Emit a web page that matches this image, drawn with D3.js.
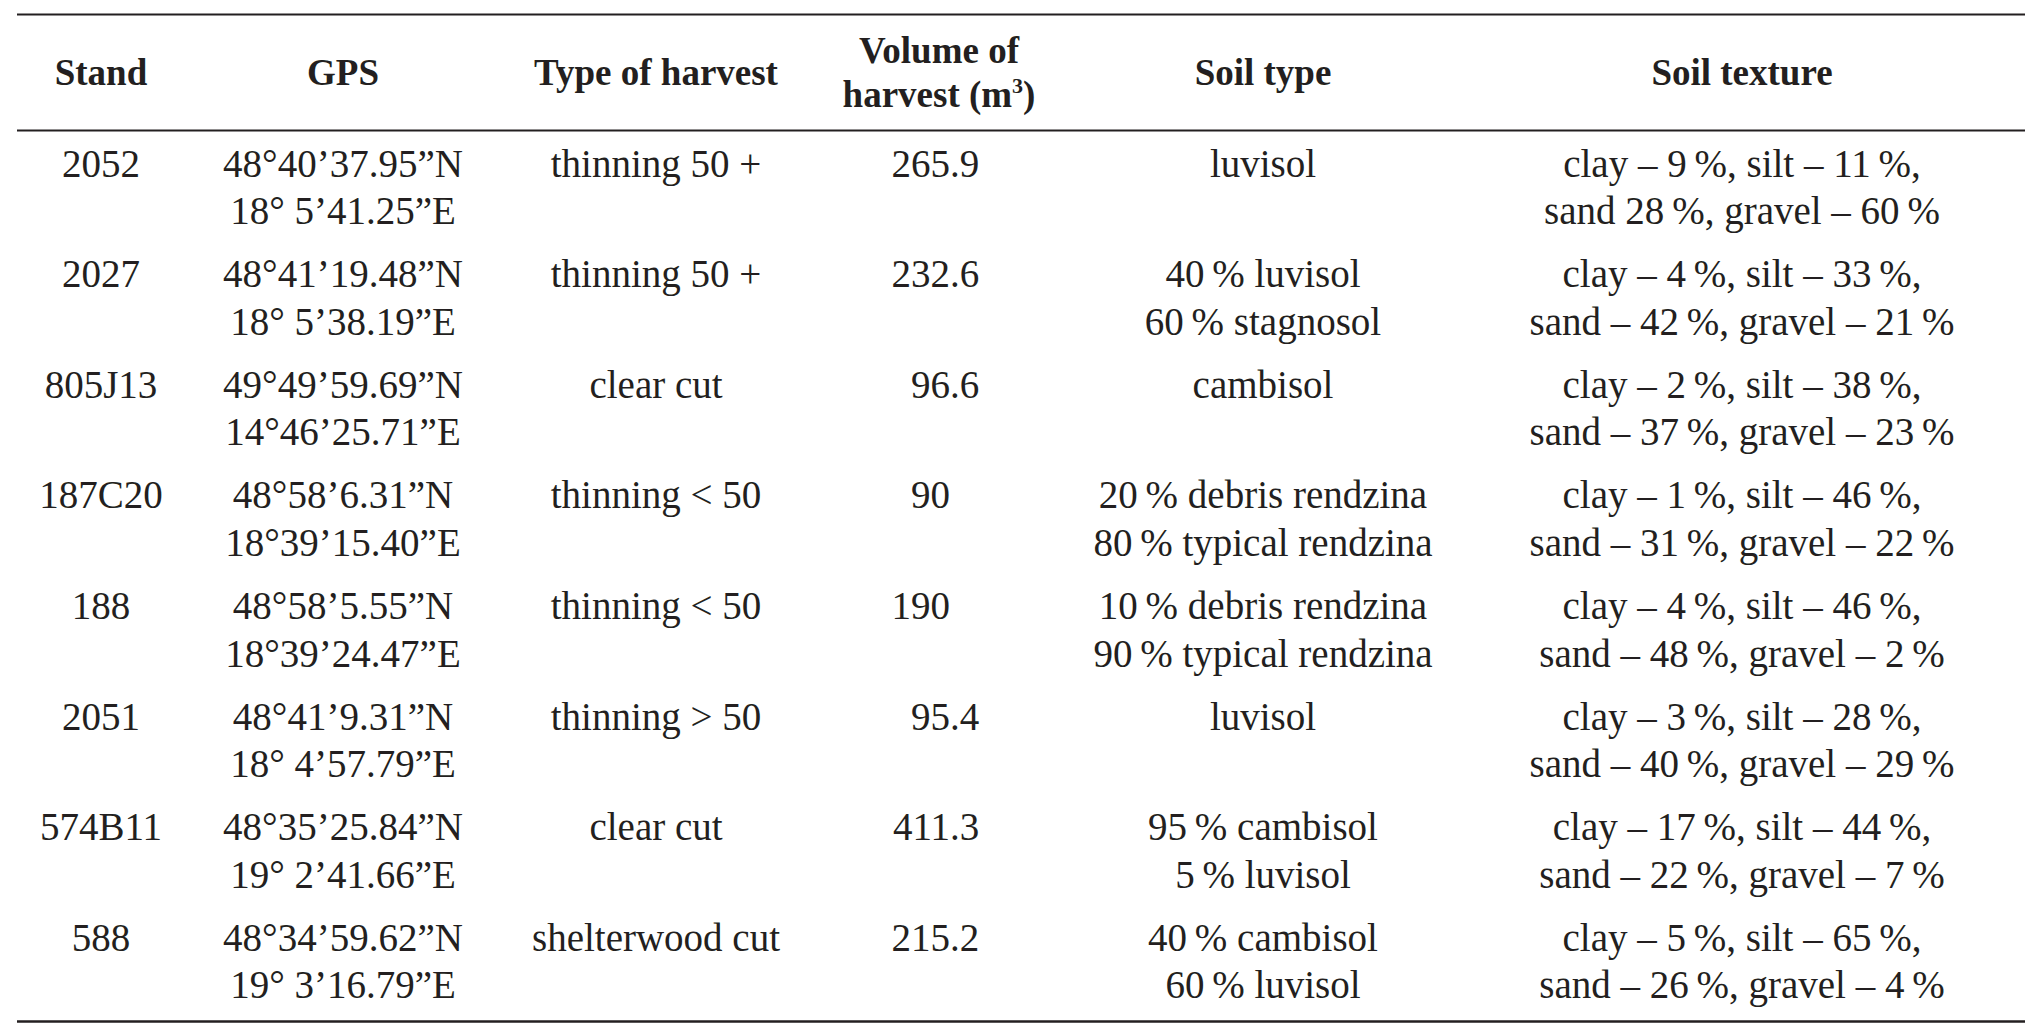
<!DOCTYPE html>
<html>
<head>
<meta charset="utf-8">
<script src="https://cdn.jsdelivr.net/npm/d3@7"></script>
<style>
  body { margin: 0; background: #fff; }
  text { font-family: "Liberation Serif", "Times New Roman", serif; fill: #231f20; }
</style>
</head>
<body>
<div id="chart-area"></div>
<script>
// table data
var stands = ['2052', '2027', '805J13', '187C20', '188', '2051', '574B11', '588'];
var gpsNorth = ['48°40’37.95”N', '48°41’19.48”N', '49°49’59.69”N', '48°58’6.31”N',
                '48°58’5.55”N', '48°41’9.31”N', '48°35’25.84”N', '48°34’59.62”N'];
var gpsEast = ['18° 5’41.25”E', '18° 5’38.19”E', '14°46’25.71”E', '18°39’15.40”E',
               '18°39’24.47”E', '18° 4’57.79”E', '19° 2’41.66”E', '19° 3’16.79”E'];
var harvestTypes = ['thinning 50 +', 'thinning 50 +', 'clear cut', 'thinning < 50',
                    'thinning < 50', 'thinning > 50', 'clear cut', 'shelterwood cut'];
var volumes = [265.9, 232.6, 96.6, 90, 190, 95.4, 411.3, 215.2];
var soilTypes = [
    ['luvisol'],
    ['40\u2009% luvisol', '60\u2009% stagnosol'],
    ['cambisol'],
    ['20\u2009% debris rendzina', '80\u2009% typical rendzina'],
    ['10\u2009% debris rendzina', '90\u2009% typical rendzina'],
    ['luvisol'],
    ['95\u2009% cambisol', '5\u2009% luvisol'],
    ['40\u2009% cambisol', '60\u2009% luvisol']
];
var soilTextures = [
    ['clay – 9\u2009%, silt – 11\u2009%,', 'sand 28\u2009%, gravel – 60\u2009%'],
    ['clay – 4\u2009%, silt – 33\u2009%,', 'sand – 42\u2009%, gravel – 21\u2009%'],
    ['clay – 2\u2009%, silt – 38\u2009%,', 'sand – 37\u2009%, gravel – 23\u2009%'],
    ['clay – 1\u2009%, silt – 46\u2009%,', 'sand – 31\u2009%, gravel – 22\u2009%'],
    ['clay – 4\u2009%, silt – 46\u2009%,', 'sand – 48\u2009%, gravel – 2\u2009%'],
    ['clay – 3\u2009%, silt – 28\u2009%,', 'sand – 40\u2009%, gravel – 29\u2009%'],
    ['clay – 17\u2009%, silt – 44\u2009%,', 'sand – 22\u2009%, gravel – 7\u2009%'],
    ['clay – 5\u2009%, silt – 65\u2009%,', 'sand – 26\u2009%, gravel – 4\u2009%']
];
var columns = ['stand', 'gps', 'type', 'volume', 'soil', 'texture'];
var headers = [['Stand'], ['GPS'], ['Type of harvest'], ['Volume of', 'harvest (m³)'], ['Soil type'], ['Soil texture']];

var width = 2040, height = 1036;
var fontSize = 39, lineGap = 47.5;

var svg = d3.select('#chart-area').append('svg')
    .attr('width', width)
    .attr('height', height);

// column centres
var colX = d3.scaleOrdinal()
    .domain(columns)
    .range([101, 343, 656, 939, 1263, 1742]);
var decimalX = 950; // volume column aligned on decimal point

// row bands
var rowY = d3.scaleBand()
    .domain(stands)
    .range([132, 1017]);

// rules
var ruleLeft = 17, ruleRight = 2025;
[[14.5, 2], [130.5, 2], [1021.5, 2.6]].forEach(function(r){
    svg.append('line')
        .attr('x1', ruleLeft).attr('x2', ruleRight)
        .attr('y1', r[0]).attr('y2', r[0])
        .attr('stroke', '#231f20')
        .attr('stroke-width', r[1]);
});

// header
var head = svg.append('g').attr('class', 'header');
headers.forEach(function(lines, i){
    var top = lines.length == 1 ? 85 : 63;
    lines.forEach(function(line, j){
        var t = head.append('text')
            .attr('x', colX(columns[i]))
            .attr('y', top + j * 44)
            .attr('text-anchor', 'middle')
            .attr('font-size', 37)
            .attr('font-weight', 'bold');
        if (line.indexOf('m³') >= 0) {
            t.append('tspan').text('harvest (m');
            t.append('tspan').attr('font-size', 22).attr('dy', -14).text('3');
            t.append('tspan').attr('dy', 14).text(')');
        } else {
            t.text(line);
        }
    });
});

// body rows
var rows = svg.append('g').attr('class', 'rows')
    .selectAll('g')
    .data(stands)
    .enter()
    .append('g')
        .attr('transform', function(d){ return 'translate(0,' + (rowY(d) + 44.5) + ')'; });

function addLines(sel, col, getLines){
    sel.each(function(d, i){
        var g = d3.select(this);
        getLines(i).forEach(function(line, j){
            g.append('text')
                .attr('x', colX(col))
                .attr('y', j * lineGap)
                .attr('text-anchor', 'middle')
                .attr('font-size', fontSize)
                .text(line);
        });
    });
}

addLines(rows, 'stand', function(i){ return [stands[i]]; });
addLines(rows, 'gps', function(i){ return [gpsNorth[i], gpsEast[i]]; });
addLines(rows, 'type', function(i){ return [harvestTypes[i]]; });
addLines(rows, 'soil', function(i){ return soilTypes[i]; });
addLines(rows, 'texture', function(i){ return soilTextures[i]; });

// volume: integer part right of decimal point, fraction after it
rows.append('text')
    .attr('x', decimalX)
    .attr('text-anchor', 'end')
    .attr('font-size', fontSize)
    .text(function(d, i){ return String(Math.trunc(volumes[i])); });
rows.append('text')
    .attr('x', decimalX)
    .attr('text-anchor', 'start')
    .attr('font-size', fontSize)
    .text(function(d, i){
        var s = String(volumes[i]);
        return s.indexOf('.') >= 0 ? s.slice(s.indexOf('.')) : '';
    });
</script>
</body>
</html>
